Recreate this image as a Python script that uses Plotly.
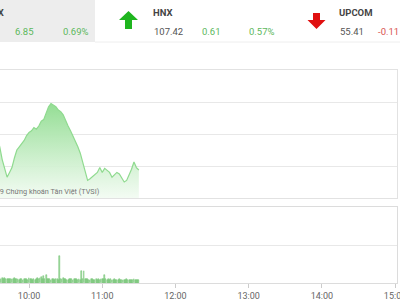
import pandas as pd
import plotly.graph_objects as go

# ---- data ----
line_times = pd.date_range("2019-01-01 09:34", "2019-01-01 11:30", freq="2min")
index_values = [993.7, 993.2, 992.4, 991.8, 991.3, 991.6, 991.9, 992.5, 993.0, 993.2,
                993.4, 993.6, 993.9, 994.1, 994.2, 994.4, 994.3, 994.5, 994.8, 994.9,
                995.3, 995.7, 995.9, 995.8, 995.7, 995.5, 995.4, 995.2, 994.8, 994.5,
                994.2, 993.9, 993.5, 993.2, 992.8, 992.2, 991.6, 991.1, 991.2, 991.35,
                991.5, 991.6, 991.9, 991.6, 991.85, 991.7, 991.6, 991.3, 991.45, 991.6,
                991.5, 991.2, 991.0, 991.1, 991.4, 991.8, 992.25, 991.9, 991.75]

vol_times = pd.date_range("2019-01-01 09:34", "2019-01-01 11:30", freq="1min")
volume_k = [130, 120, 140, 110, 125, 115, 120, 105, 118, 110,
            100, 112, 95, 108, 120, 98, 105, 110, 92, 100,
            115, 90, 102, 98, 110, 85, 120, 95, 100, 88,
            105, 92, 110, 140, 98, 120, 150, 105, 180, 110,
            200, 95, 110, 100, 88, 95, 105, 90, 100, 98,
            92, 700, 110, 95, 120, 100, 105, 90, 88, 100,
            95, 110, 92, 98, 105, 100, 90, 95, 88, 320,
            100, 320, 110, 95, 100, 90, 88, 100, 95, 92,
            90, 95, 88, 100, 92, 98, 95, 105, 200, 98,
            90, 95, 88, 100, 92, 85, 95, 90, 88, 92,
            95, 88, 90, 85, 92, 88, 95, 90, 85, 92,
            88, 90, 95, 85, 92, 88, 90]
volume = [v * 1000 for v in volume_k]

tick_vals = ["2019-01-01 10:00", "2019-01-01 11:00", "2019-01-01 12:00",
             "2019-01-01 13:00", "2019-01-01 14:00", "2019-01-01 15:00"]
tick_text = ["10:00", "11:00", "12:00", "13:00", "14:00", "15:00"]

W, H = 400, 300
ML, MR, MT, MB = 0, 3, 0, 17
PW, PH = W - ML - MR, H - MT - MB


def px(x):
    return (x - ML) / PW


def py(y):
    return (H - MB - y) / PH


fig = go.Figure()

fig.add_trace(go.Scatter(
    x=line_times, y=index_values, mode="lines",
    line=dict(color="#8fda8f", width=1.2),
    fill="tozeroy",
    fillgradient=dict(type="vertical", start=990, stop=996,
                      colorscale=[[0, "rgba(242,251,242,0.9)"], [1, "#92dd92"]]),
    xaxis="x", yaxis="y", hoverinfo="skip"))

fig.add_trace(go.Bar(
    x=vol_times, y=volume, marker=dict(color="#b3e0b3", line=dict(color="#5cb85c", width=0.5)),
    width=42000, xaxis="x2", yaxis="y2", hoverinfo="skip"))

xr = ["2019-01-01 09:36:12", "2019-01-01 15:01:36"]
d1 = [py(198), py(70)]
d2 = [0, py(207)]

fig.update_layout(
    width=W, height=H, margin=dict(l=ML, r=MR, t=MT, b=MB, autoexpand=False),
    paper_bgcolor="white", plot_bgcolor="white", showlegend=False,
    font=dict(family="Roboto", size=10, color="#666"),
    bargap=0,
    xaxis=dict(range=xr, domain=[0, 1], anchor="y", showticklabels=False,
               showgrid=False, showline=True, mirror=True, linecolor="#e2e2e2",
               linewidth=1, ticks="", zeroline=False, automargin=False),
    yaxis=dict(range=[990, 998], domain=d1, dtick=2, showticklabels=False,
               gridcolor="#e8e8e8", side="right", showline=True, linecolor="#e2e2e2",
               zeroline=False, ticks="", automargin=False),
    xaxis2=dict(range=xr, domain=[0, 1], anchor="y2", tickvals=tick_vals, ticktext=tick_text,
                showgrid=False, showline=True, mirror=True, linecolor="#dcdcdc",
                ticks="outside", ticklen=4, tickcolor="#cccccc", ticklabeloverflow="allow",
                tickfont=dict(size=9, color="#666"), zeroline=False, automargin=False),
    yaxis2=dict(range=[0, 2000000], domain=d2, dtick=1000000, showticklabels=False,
                gridcolor="#e8e8e8", side="right", showline=True, linecolor="#dcdcdc",
                zeroline=False, ticks="", automargin=False),
)

shapes = [
    dict(type="rect", xref="paper", yref="paper", x0=px(-2), x1=px(95), y0=py(42), y1=py(-2),
         fillcolor="#ededed", line=dict(width=0), layer="below"),
    dict(type="line", xref="paper", yref="paper", x0=px(95), x1=px(402), y0=py(42), y1=py(42),
         line=dict(color="#eeeeee", width=1)),
    # green up arrow
    dict(type="path", xref="paper", yref="paper",
         path="M {} {} L {} {} L {} {} L {} {} L {} {} L {} {} L {} {} Z".format(
             px(128.5), py(11), px(138), py(20), px(132), py(20), px(132), py(29),
             px(125), py(29), px(125), py(20), px(119), py(20)),
         fillcolor="#1fb51f", line=dict(width=0)),
    # red down arrow
    dict(type="path", xref="paper", yref="paper",
         path="M {} {} L {} {} L {} {} L {} {} L {} {} L {} {} L {} {} Z".format(
             px(313), py(13), px(320), py(13), px(320), py(20), px(325.5), py(20),
             px(316.5), py(29), px(307.5), py(20), px(313), py(20)),
         fillcolor="#e01010", line=dict(width=0)),
]
fig.update_layout(shapes=shapes)

green = "#5cb85c"
dark = "#444"
annots = [
    ("VN-INDEX", 6, 13, dark, "right", True),
    ("6.85", 13, 31, green, "left", False),
    ("0.69%", 61, 31, green, "left", False),
    ("HNX", 151, 13, dark, "left", True),
    ("107.42", 152, 31, "#555", "left", False),
    ("0.61", 200, 31, green, "left", False),
    ("0.57%", 247, 31, green, "left", False),
    ("UPCOM", 337, 13, dark, "left", True),
    ("55.41", 338, 31, "#555", "left", False),
    ("-0.11", 376, 31, "#d9534f", "left", False),
]
for txt, x, y, col, anc, bold in annots:
    fig.add_annotation(xref="paper", yref="paper", x=px(x), y=py(y), text=f"<b>{txt}</b>" if bold else txt,
                       showarrow=False, xanchor=anc, yanchor="middle",
                       font=dict(family="Roboto", size=9.5, color=col))

fig.add_annotation(xref="paper", yref="paper", x=px(102), y=py(191),
                   text="© 2019 Chứng khoán Tân Việt (TVSI)", showarrow=False,
                   xanchor="right", yanchor="middle",
                   font=dict(family="Roboto", size=7.3, color="#777"))

fig.write_html("out.html")
